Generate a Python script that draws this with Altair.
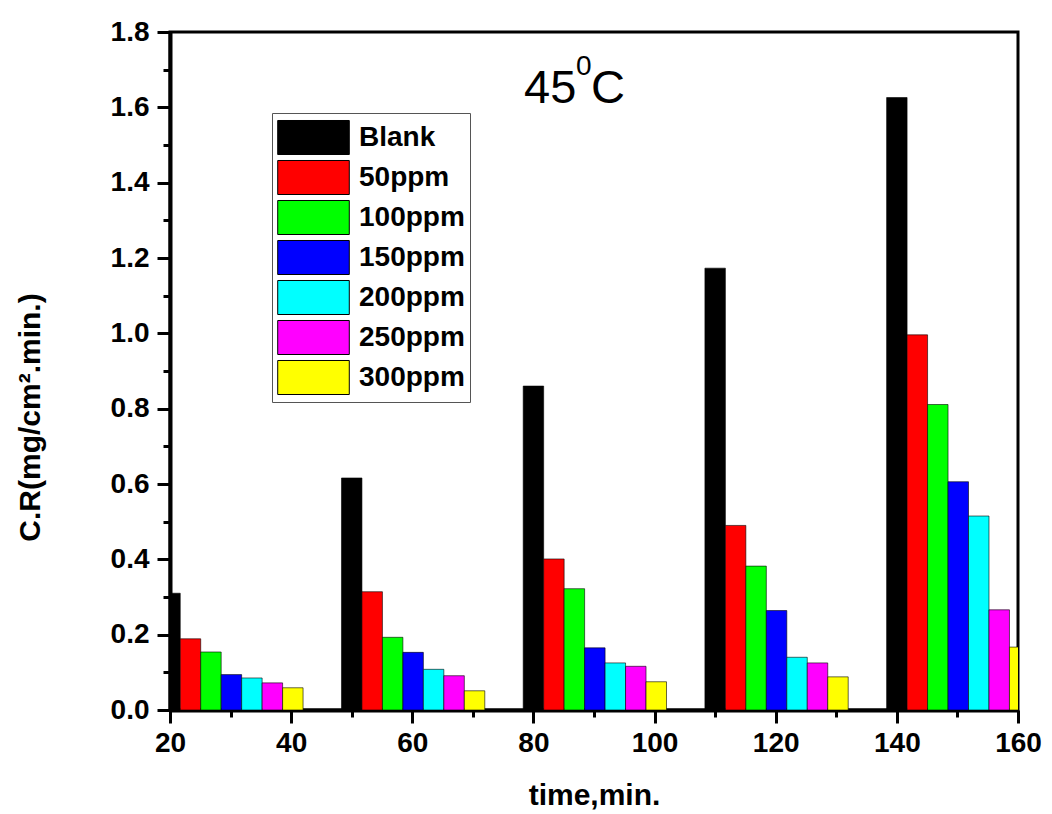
import altair as alt
import pandas as pd

# ---- data ----
times = [20, 50, 80, 110, 140]
series = ["Blank", "50ppm", "100ppm", "150ppm", "200ppm", "250ppm", "300ppm"]
colors = ["#000000", "#ff0000", "#00ff00", "#0000ff", "#00ffff", "#ff00ff", "#ffff00"]

blank = [0.310, 0.616, 0.860, 1.173, 1.626]
ppm50 = [0.189, 0.314, 0.401, 0.490, 0.996]
ppm100 = [0.154, 0.193, 0.322, 0.382, 0.811]
ppm150 = [0.094, 0.153, 0.165, 0.264, 0.606]
ppm200 = [0.085, 0.108, 0.125, 0.140, 0.515]
ppm250 = [0.072, 0.091, 0.116, 0.125, 0.266]
ppm300 = [0.059, 0.051, 0.075, 0.088, 0.167]
values = [blank, ppm50, ppm100, ppm150, ppm200, ppm250, ppm300]

x_ticks = list(range(20, 161, 10))
y_ticks = [round(i * 0.1, 1) for i in range(19)]

title_main = "45"
title_sup = "0"
title_unit = "C"

bar_step = 3.38
FONT = "Liberation Sans"

rows = []
for i, (name, vals) in enumerate(zip(series, values)):
    for t, v in zip(times, vals):
        rows.append({"time": t, "series": name, "order": i, "cr": v})
df = pd.DataFrame(rows)

legend_path = "M-1.884,-0.895H1.884V0.895H-1.884Z"

bars = (
    alt.Chart(df)
    .transform_calculate(
        x0=f"datum.time + (datum.order - 0.5) * {bar_step}",
        x1=f"datum.time + (datum.order + 0.5) * {bar_step}",
    )
    .mark_bar(clip=True, stroke="black", strokeWidth=0.8, strokeOpacity=0.75)
    .encode(
        x=alt.X(
            "x0:Q",
            scale=alt.Scale(domain=[20, 160], nice=False, zero=False),
            axis=alt.Axis(
                values=x_ticks,
                labelExpr="datum.value % 20 == 0 ? datum.label : ''",
                tickSize={"condition": {"test": "datum.value % 20 == 0", "value": 13}, "value": 7},
                labelPadding=6,
                title="time,min.",
                titleY=94,
                titleBaseline="alphabetic",
            ),
        ),
        x2="x1:Q",
        y=alt.Y(
            "cr:Q",
            scale=alt.Scale(domain=[0, 1.8], nice=False),
            axis=alt.Axis(
                values=y_ticks,
                format=".1f",
                labelExpr="round(datum.value * 10) % 2 == 0 ? datum.label : ''",
                tickSize={"condition": {"test": "round(datum.value * 10) % 2 == 0", "value": 13}, "value": 7},
                labelPadding=8,
                title="C.R(mg/cm².min.)",
                titleX=-131,
                titleY=385,
                titleBaseline="alphabetic",
            ),
        ),
        y2=alt.datum(0),
        color=alt.Color(
            "series:N",
            scale=alt.Scale(domain=series, range=colors),
            legend=alt.Legend(
                title=None,
                orient="none",
                legendX=102,
                legendY=81,
                symbolType=legend_path,
                symbolSize=1444,
                symbolStrokeColor="black",
                symbolStrokeWidth=1,
                symbolOffset=17,
                labelOffset=26,
                labelFont=FONT,
                labelFontSize=28,
                labelFontWeight="bold",
                labelColor="black",
                rowPadding=1,
                padding=5,
                strokeColor="#555555",
                fillColor="white",
            ),
        ),
    )
)

src_main = pd.DataFrame({"label": [title_main]})
src_sup = pd.DataFrame({"label": [title_sup]})
src_unit = pd.DataFrame({"label": [title_unit]})

t_main = alt.Chart(src_main).mark_text(
    align="left", baseline="alphabetic", fontSize=47, font=FONT, color="black"
).encode(x=alt.value(354), y=alt.value(71), text="label:N")
t_sup = alt.Chart(src_sup).mark_text(
    align="left", baseline="alphabetic", fontSize=28, font=FONT, color="black"
).encode(x=alt.value(406), y=alt.value(43), text="label:N")
t_unit = alt.Chart(src_unit).mark_text(
    align="left", baseline="alphabetic", fontSize=47, font=FONT, color="black"
).encode(x=alt.value(421), y=alt.value(71), text="label:N")

chart = (
    alt.layer(bars, t_main, t_sup, t_unit)
    .properties(
        width=848,
        height=678,
        autosize=alt.AutoSizeParams(type="none"),
        padding={"left": 170, "top": 32, "right": 34, "bottom": 104},
        background="white",
    )
    .configure_view(stroke="black", strokeWidth=3)
    .configure_axis(
        grid=False,
        domainColor="black",
        domainWidth=4,
        tickColor="black",
        tickWidth=3,
        labelFont=FONT,
        labelFontSize=28,
        labelFontWeight="bold",
        labelColor="black",
        labelOverlap=False,
        labelFlush=False,
        titleFont=FONT,
        titleFontSize=30,
        titleFontWeight="bold",
        titleColor="black",
    )
)

chart.save("out.html", embed_options={"renderer": "svg", "actions": False})
